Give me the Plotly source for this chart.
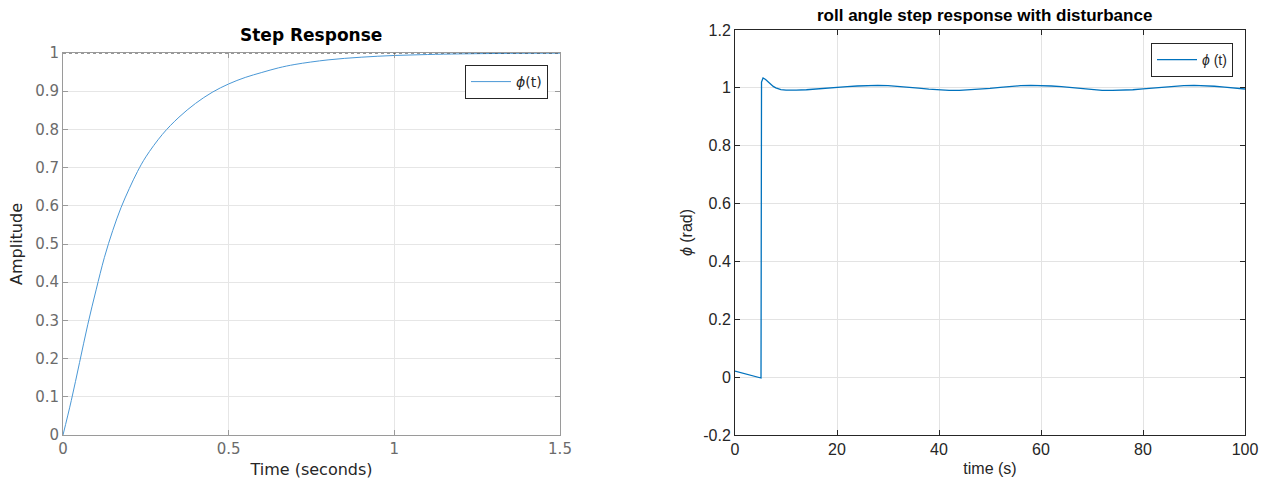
import plotly.graph_objects as go

# ---- Data ----
step_t = [0, 0.025, 0.05, 0.075, 0.1, 0.125, 0.15, 0.175, 0.2, 0.225, 0.25,
          0.3, 0.35, 0.4, 0.45, 0.5, 0.55, 0.6, 0.65, 0.7, 0.8, 0.9, 1.0,
          1.1, 1.2, 1.35, 1.5]
step_y = [0, 0.09, 0.19, 0.29, 0.38, 0.465, 0.535, 0.595, 0.645, 0.69, 0.728,
          0.787, 0.832, 0.868, 0.897, 0.919, 0.936, 0.949, 0.961, 0.970, 0.982,
          0.989, 0.9935, 0.996, 0.9977, 0.999, 0.9995]
steady_value = 1.0

roll_t = [0, 1, 2, 3, 4, 5.1, 5.2, 5.5, 6, 6.5, 7, 7.5, 8, 8.5, 9, 10, 11, 12,
          14, 16, 18, 20, 22, 24, 26, 28, 30, 32, 34, 36, 38, 40, 42, 44, 46,
          48, 50, 52, 54, 56, 58, 60, 62, 64, 66, 68, 70, 72, 74, 76, 78, 80,
          82, 84, 86, 88, 90, 92, 94, 96, 98, 100]
roll_y = [0.021, 0.016, 0.011, 0.006, 0.002, -0.003, 1.02, 1.034, 1.029, 1.021,
          1.012, 1.005, 1.0, 0.996, 0.994, 0.992, 0.9915, 0.992,
          0.9935, 0.9955, 0.998, 1.001, 1.004, 1.0065, 1.008, 1.0085, 1.0075,
          1.0055, 1.0025, 0.999, 0.9955, 0.9925, 0.991, 0.991, 0.9925,
          0.995, 0.998, 1.0015, 1.005, 1.0075, 1.0085, 1.008, 1.0065, 1.004,
          1.0005, 0.997, 0.994, 0.9915, 0.991, 0.9915, 0.9935, 0.9965, 1.0,
          1.0035, 1.0065, 1.008, 1.0085, 1.0075, 1.0055, 1.0025, 0.999, 0.996]

left_xticks = [0, 0.5, 1, 1.5]
left_yticks = [0, 0.1, 0.2, 0.3, 0.4, 0.5, 0.6, 0.7, 0.8, 0.9, 1]
right_xticks = [0, 20, 40, 60, 80, 100]
right_yticks = [-0.2, 0, 0.2, 0.4, 0.6, 0.8, 1, 1.2]
right_yticktext = ["-0.2", "0", "0.2", "0.4", "0.6", "0.8", "1", "1.2"]

W, H = 1266, 483

fig = go.Figure()

fig.add_trace(go.Scatter(
    x=step_t, y=step_y, mode="lines", name="<i>ϕ</i>(t)",
    line=dict(color="#4a98d6", width=1, shape="spline", smoothing=1.0),
    xaxis="x", yaxis="y", legend="legend"))

fig.add_trace(go.Scatter(
    x=roll_t, y=roll_y, mode="lines", name="<i>ϕ</i> (t)",
    line=dict(color="#0072BD", width=1.3, shape="linear"),
    xaxis="x2", yaxis="y2", legend="legend2"))

# steady-state dotted line (left)
fig.add_shape(type="line", xref="x domain", yref="y", x0=0, x1=1,
              y0=steady_value, y1=steady_value,
              line=dict(color="#333333", width=1, dash="dot"), layer="above")

def px_x(p):
    return p / W

def px_y(p):
    return 1 - p / H

left_font = "DejaVu Sans"
right_font = "Liberation Sans"

fig.update_layout(
    width=W, height=H,
    margin=dict(l=0, r=0, t=0, b=0, autoexpand=False),
    paper_bgcolor="white", plot_bgcolor="white",
    showlegend=True,
    xaxis=dict(
        domain=[px_x(63), px_x(560)], range=[0, 1.5], automargin=False,
        tickvals=left_xticks, ticks="inside", ticklen=5, tickcolor="#9a9a9a",
        showline=True, linecolor="#9a9a9a", linewidth=1, mirror="ticks",
        showgrid=True, gridcolor="#e6e6e6", gridwidth=1, zeroline=False,
        tickfont=dict(family=left_font, size=15, color="#6b6b6b"),
        title=dict(text="Time (seconds)", standoff=6,
                   font=dict(family=left_font, size=16, color="#262626")),
        anchor="y"),
    yaxis=dict(
        domain=[px_y(435), px_y(53)], range=[0, 1], automargin=False,
        tickvals=left_yticks, ticks="inside", ticklen=5, tickcolor="#9a9a9a",
        showline=True, linecolor="#9a9a9a", linewidth=1, mirror="ticks",
        showgrid=True, gridcolor="#e6e6e6", gridwidth=1, zeroline=False,
        tickfont=dict(family=left_font, size=15, color="#6b6b6b"),
        title=dict(text="Amplitude", standoff=8,
                   font=dict(family=left_font, size=16, color="#262626")),
        anchor="x"),
    xaxis2=dict(
        domain=[px_x(735), px_x(1245)], range=[0, 100], automargin=False,
        tickvals=right_xticks, ticks="inside", ticklen=5, tickcolor="#262626",
        showline=True, linecolor="#262626", linewidth=1, mirror="ticks",
        showgrid=True, gridcolor="#e3e3e3", gridwidth=1, zeroline=False,
        tickfont=dict(family=right_font, size=16, color="#262626"),
        title=dict(text="time (s)", standoff=5,
                   font=dict(family=right_font, size=16, color="#262626")),
        anchor="y2"),
    yaxis2=dict(
        domain=[px_y(435), px_y(30)], range=[-0.2, 1.2], automargin=False,
        tickvals=right_yticks, ticktext=right_yticktext,
        ticks="inside", ticklen=5, tickcolor="#262626",
        showline=True, linecolor="#262626", linewidth=1, mirror="ticks",
        showgrid=True, gridcolor="#e3e3e3", gridwidth=1, zeroline=False,
        tickfont=dict(family=right_font, size=16, color="#262626"),
        title=dict(text="<i>ϕ</i> (rad)", standoff=6,
                   font=dict(family=right_font, size=16, color="#262626")),
        anchor="x2"),
    legend=dict(
        x=px_x(548), y=px_y(65), xanchor="right", yanchor="top",
        bgcolor="white", bordercolor="#262626", borderwidth=1,
        font=dict(family=left_font, size=14, color="#262626"),
        itemwidth=40, tracegroupgap=0),
    legend2=dict(
        x=px_x(1233), y=px_y(43), xanchor="right", yanchor="top",
        bgcolor="white", bordercolor="#262626", borderwidth=1,
        font=dict(family=right_font, size=14, color="#262626"),
        itemwidth=40, tracegroupgap=0),
    annotations=[
        dict(text="<b>Step Response</b>", xref="paper", yref="paper",
             x=px_x(311), y=px_y(35), xanchor="center", yanchor="middle",
             showarrow=False,
             font=dict(family=left_font, size=17, color="#000000")),
        dict(text="<b>roll angle step response with disturbance</b>",
             xref="paper", yref="paper",
             x=px_x(985), y=px_y(16), xanchor="center", yanchor="middle",
             showarrow=False,
             font=dict(family=right_font, size=17, color="#000000")),
    ],
)

fig.write_html(
    "out.html",
    config={"displayModeBar": False},
    post_script="document.body.style.margin='0';document.body.style.padding='0';",
)
